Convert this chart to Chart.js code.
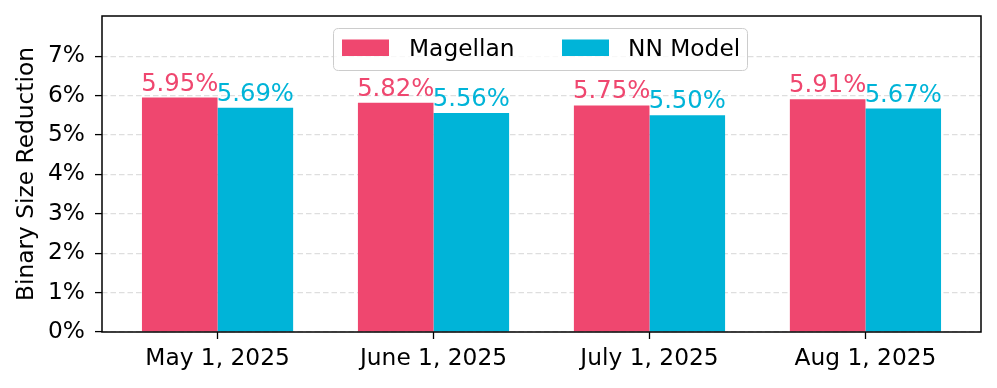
<!DOCTYPE html>
<html>
<head>
<meta charset="utf-8">
<script src="https://cdn.jsdelivr.net/npm/chart.js@4.4.1/dist/chart.umd.min.js"></script>
<style>
  html, body { margin: 0; padding: 0; background: #fff; }
  #wrap { width: 997px; height: 388px; position: relative; }
</style>
</head>
<body>
<div id="wrap"><canvas id="c" width="997" height="388"></canvas></div>
<script>
const categories = ["May 1, 2025", "June 1, 2025", "July 1, 2025", "Aug 1, 2025"];
const seriesNames = ["Magellan", "NN Model"];
const magellan = [5.95, 5.82, 5.75, 5.91];
const nnModel = [5.69, 5.56, 5.50, 5.67];
const yTicks = [0, 1, 2, 3, 4, 5, 6, 7];
const colors = ["#EF476F", "#00B4D8"];

const FONT = "'DejaVu Sans', sans-serif";
const FS = 23.3;
const FS_LABEL = 24.3;

const frameLegendLabels = {
  id: 'frameLegendLabels',
  afterDraw(chart) {
    const ctx = chart.ctx;
    const a = chart.chartArea;
    ctx.save();
    // value labels
    ctx.font = FS_LABEL + "px " + FONT;
    ctx.textAlign = 'center';
    ctx.textBaseline = 'alphabetic';
    chart.data.datasets.forEach((ds, i) => {
      const meta = chart.getDatasetMeta(i);
      meta.data.forEach((bar, j) => {
        ctx.fillStyle = ds.backgroundColor;
        ctx.fillText(ds.data[j].y.toFixed(2) + '%', bar.x, bar.y - 7);
      });
    });
    // frame
    ctx.strokeStyle = '#000';
    ctx.lineWidth = 1.5;
    ctx.strokeRect(a.left, a.top, a.right - a.left, a.bottom - a.top);
    // legend
    ctx.font = FS + "px " + FONT;
    const lx = 333.5, ly = 28.5, lw = 414, lh = 42, r = 5;
    ctx.beginPath();
    ctx.moveTo(lx + r, ly);
    ctx.lineTo(lx + lw - r, ly);
    ctx.quadraticCurveTo(lx + lw, ly, lx + lw, ly + r);
    ctx.lineTo(lx + lw, ly + lh - r);
    ctx.quadraticCurveTo(lx + lw, ly + lh, lx + lw - r, ly + lh);
    ctx.lineTo(lx + r, ly + lh);
    ctx.quadraticCurveTo(lx, ly + lh, lx, ly + lh - r);
    ctx.lineTo(lx, ly + r);
    ctx.quadraticCurveTo(lx, ly, lx + r, ly);
    ctx.closePath();
    ctx.fillStyle = 'rgba(255,255,255,0.8)';
    ctx.fill();
    ctx.strokeStyle = '#cccccc';
    ctx.lineWidth = 1;
    ctx.stroke();
    const entries = [{bx: 342, tx: 409}, {bx: 562, tx: 628}];
    chart.data.datasets.forEach((ds, i) => {
      ctx.fillStyle = ds.backgroundColor;
      ctx.fillRect(entries[i].bx, 39.5, 47, 16.5);
      ctx.fillStyle = '#000';
      ctx.textAlign = 'left';
      ctx.textBaseline = 'alphabetic';
      ctx.fillText(ds.label, entries[i].tx, 56);
    });
    ctx.restore();
  }
};

const toPts = arr => arr.map((v, i) => ({x: i, y: v}));

new Chart(document.getElementById('c'), {
  type: 'bar',
  data: {
    datasets: [
      { label: seriesNames[0], data: toPts(magellan), backgroundColor: colors[0], borderWidth: 0 },
      { label: seriesNames[1], data: toPts(nnModel), backgroundColor: colors[1], borderWidth: 0 }
    ]
  },
  options: {
    responsive: false,
    animation: false,
    devicePixelRatio: 1,
    layout: { padding: { top: 16, right: 16, left: 0, bottom: 0 } },
    datasets: { bar: { categoryPercentage: 0.7, barPercentage: 1.0 } },
    plugins: { legend: { display: false }, tooltip: { enabled: false } },
    scales: {
      x: {
        type: 'linear',
        offset: false,
        min: -0.535,
        max: 3.535,
        afterBuildTicks: s => { s.ticks = categories.map((c, i) => ({value: i})); },
        afterFit: s => { s.height = 56; s.paddingLeft = 0; s.paddingRight = 0; },
        ticks: {
          callback: v => categories[v],
          color: '#000',
          font: { family: FONT, size: FS },
          padding: 6,
          maxRotation: 0,
          autoSkip: false
        },
        grid: { offset: false, drawOnChartArea: false, drawTicks: true, tickLength: 7, tickColor: '#000', tickWidth: 1.3 },
        border: { display: false }
      },
      y: {
        min: 0,
        max: 8.02,
        z: 1,
        afterBuildTicks: s => { s.ticks = yTicks.map(v => ({value: v})); },
        afterFit: s => { s.width = 102; s.paddingTop = 0; s.paddingBottom = 0; },
        ticks: {
          callback: v => v + '%',
          color: '#000',
          font: { family: FONT, size: FS },
          padding: 10
        },
        grid: {
          color: 'rgba(200,200,200,0.6)',
          lineWidth: 1.2,
          tickLength: 7,
          tickColor: '#000',
          tickWidth: 1.3,
          tickBorderDash: []
        },
        border: { display: false, dash: [5.5, 3] },
        title: {
          display: true,
          text: 'Binary Size Reduction',
          color: '#000',
          font: { family: FONT, size: FS },
          padding: { top: 13, bottom: 0 }
        }
      }
    }
  },
  plugins: [frameLegendLabels]
});
</script>
</body>
</html>
